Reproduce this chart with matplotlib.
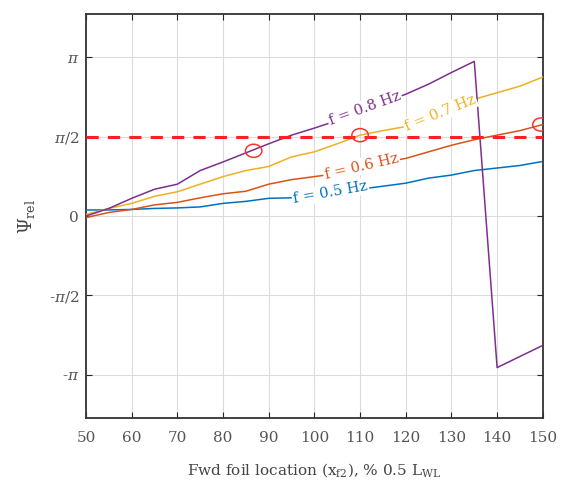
import numpy as np
import matplotlib.pyplot as plt
from matplotlib.patches import Ellipse

# Relative phase vs forward foil location, one curve per encounter frequency
x_loc = [50, 55, 60, 65, 70, 75, 80, 85, 90, 95, 100, 105, 110, 115, 120,
         125, 130, 135, 140, 145, 150]

psi_05 = [0.12, 0.12, 0.13, 0.15, 0.16, 0.18, 0.25, 0.29, 0.35, 0.36, 0.41,
          0.47, 0.53, 0.59, 0.65, 0.75, 0.81, 0.90, 0.95, 1.00, 1.08]
psi_06 = [-0.03, 0.07, 0.13, 0.22, 0.27, 0.36, 0.44, 0.49, 0.63, 0.72, 0.78,
          0.84, 0.95, 1.06, 1.14, 1.27, 1.40, 1.51, 1.60, 1.69, 1.81]
psi_07 = [0.03, 0.15, 0.25, 0.39, 0.48, 0.63, 0.78, 0.90, 0.98, 1.17, 1.27,
          1.43, 1.60, 1.69, 1.77, 1.95, 2.15, 2.31, 2.44, 2.57, 2.75]
psi_08 = [0.00, 0.15, 0.35, 0.53, 0.63, 0.90, 1.07, 1.25, 1.43, 1.60, 1.74,
          1.89, 2.05, 2.25, 2.41, 2.61, 2.84, 3.06, -3.00, -2.78, -2.56]

# quarter-wave crossing markers
mark_x = [86.7, 110.0, 149.6]
mark_y = [1.29, 1.60, 1.81]

tick_x = list(range(50, 151, 10))
tick_y = [-np.pi, -np.pi / 2, 0, np.pi / 2, np.pi]
tick_y_labels = [r'-$\pi$', r'-$\pi$/2', '0', r'$\pi$/2', r'$\pi$']

plt.rcParams['font.family'] = ['DejaVu Serif']
plt.rcParams['mathtext.fontset'] = 'dejavuserif'

fig = plt.figure(figsize=(5.66, 4.96), dpi=100)
ax = fig.add_axes([0.152, 0.157, 0.807, 0.815])

series = [
    (psi_05, '#0072BD', 'f = 0.5 Hz', 103.5, 0.47, 10),
    (psi_06, '#D95319', 'f = 0.6 Hz', 110.3, 0.98, 13),
    (psi_07, '#EDB120', 'f = 0.7 Hz', 127.5, 2.04, 22),
    (psi_08, '#7E2F8E', 'f = 0.8 Hz', 111.0, 2.13, 20),
]

for ys, col, lab, lx, ly, rot in series:
    ax.plot(x_loc, ys, color=col, lw=1.1, zorder=3)
    ax.text(lx, ly, lab, color=col, fontsize=10.5, rotation=rot,
            rotation_mode='anchor', ha='center', va='center', zorder=4,
            bbox=dict(facecolor='white', edgecolor='none', pad=1.0))

ax.axhline(np.pi / 2, color='#FF2020', lw=2.2, ls=(0, (4, 3)), zorder=5)
for mx, my in zip(mark_x, mark_y):
    ax.add_patch(Ellipse((mx, my), 3.6, 0.26, fill=False, ec='#FF3030',
                         lw=1.1, zorder=6))

ax.set_xlim(50, 150)
ax.set_ylim(-4, 4)
ax.set_xticks(tick_x)
ax.set_yticks(tick_y)
ax.set_yticklabels(tick_y_labels)
ax.grid(True, color='#DCDCDC', lw=0.8)
ax.set_axisbelow(True)
ax.tick_params(direction='in', top=True, right=True, length=4,
               labelsize=11, colors='#262626', labelcolor='#555555')
ax.tick_params(axis='x', pad=9)
ax.tick_params(axis='y', pad=5)
for s in ax.spines.values():
    s.set_color('#333333')
    s.set_linewidth(1.3)

ax.set_xlabel(r'Fwd foil location (x$_{\rm f2}$), % 0.5 L$_{\rm WL}$',
              fontsize=11, color='#444444', labelpad=12)
ax.set_ylabel(r'$\Psi_{\rm rel}$', fontsize=13, color='#444444', labelpad=8)

fig.savefig('out.png', dpi=100)
